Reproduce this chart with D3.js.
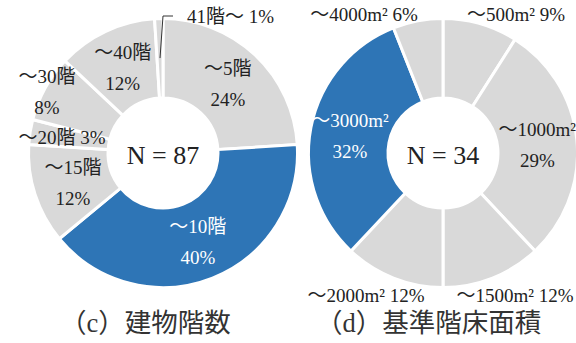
<!DOCTYPE html>
<html>
<head>
<meta charset="utf-8">
<script src="https://cdn.jsdelivr.net/npm/d3@7/dist/d3.min.js"></script>
<style>
  html, body { margin: 0; padding: 0; background: #fff; }
  svg { display: block; }
  text { font-family: "Liberation Serif", "Noto Sans CJK JP", serif; fill: #222; }
</style>
</head>
<body>
<svg id="chart" width="576" height="343"></svg>
<script>
// (c) 建物階数 — building storeys
const floorCats = ["～5階", "～10階", "～15階", "～20階", "～30階", "～40階", "41階～"];
const floorPct  = [24, 40, 12, 3, 8, 12, 1];
const floorN    = 87;

// (d) 基準階床面積 — typical floor area
const areaCats = ["～500m²", "～1000m²", "～1500m²", "～2000m²", "～3000m²", "～4000m²"];
const areaPct  = [9, 29, 12, 12, 32, 6];
const areaN    = 34;

const captions = ["（c）建物階数", "（d）基準階床面積"];

// Label placement: "in" = two lines on the slice centroid,
// "in2" = two lines at a fixed offset, "out" = one line at an offset from the donut centre.
const floorLabelLayout = [
  { mode: "in" },
  { mode: "in" },
  { mode: "in" },
  { mode: "out", dx: -101, dy: -16 },
  { mode: "in2", dx: -116, dy: -62 },
  { mode: "in" },
  { mode: "out", dx: 24, dy: -137, anchor: "start", leader: [[0, -137], [10, -137]] }
];
const areaLabelLayout = [
  { mode: "out", dx: 73, dy: -139 },
  { mode: "in" },
  { mode: "out", dx: 72, dy: 142 },
  { mode: "out", dx: -77, dy: 142 },
  { mode: "in" },
  { mode: "out", dx: -79, dy: -139 }
];

const highlight = { floor: 1, area: 4 };
const colors = { base: "#d9d9d9", accent: "#2e75b6" };

const svg = d3.select("#chart");
const rOuter = 134.5, rInner = 55;
const labelSize = 19;

function donut(cx, cy, cats, vals, n, layout, hi, caption, capX) {
  const g = svg.append("g").attr("transform", `translate(${cx},${cy})`);
  const pie = d3.pie().sort(null).value(d => d)(vals);
  const arc = d3.arc().innerRadius(rInner).outerRadius(rOuter);
  const mid = d3.arc().innerRadius((rInner + rOuter) / 2 - 1).outerRadius((rInner + rOuter) / 2 + 1);

  g.selectAll("path.slice").data(pie).join("path")
    .attr("class", "slice")
    .attr("d", arc)
    .attr("fill", (d, i) => i === hi ? colors.accent : colors.base)
    .attr("stroke", "#fff")
    .attr("stroke-width", 3)
    .attr("stroke-linejoin", "miter");

  pie.forEach((d, i) => {
    const L = layout[i];
    const col = i === hi ? "#fff" : "#222";
    const pct = vals[i] + "%";
    if (L.mode === "in" || L.mode === "in2") {
      const [x, y] = L.mode === "in" ? mid.centroid(d) : [L.dx, L.dy];
      g.append("text").attr("x", x).attr("y", y - 15)
        .attr("text-anchor", "middle").attr("dominant-baseline", "central")
        .attr("font-size", labelSize).style("fill", col).text(cats[i]);
      g.append("text").attr("x", x).attr("y", y + 16)
        .attr("text-anchor", "middle").attr("dominant-baseline", "central")
        .attr("font-size", labelSize).style("fill", col).text(pct);
    } else {
      g.append("text").attr("x", L.dx).attr("y", L.dy)
        .attr("text-anchor", L.anchor || "middle").attr("dominant-baseline", "central")
        .attr("font-size", labelSize).style("fill", col)
        .text(cats[i] + " " + pct);
      if (L.leader) {
        const a = (d.startAngle + d.endAngle) / 2, r = 95;
        const pts = [[r * Math.sin(a), -r * Math.cos(a)], ...L.leader];
        g.append("path").attr("d", d3.line()(pts))
          .attr("fill", "none").attr("stroke", "#333").attr("stroke-width", 1);
      }
    }
  });

  g.append("text").attr("x", 0).attr("y", 2)
    .attr("text-anchor", "middle").attr("dominant-baseline", "central")
    .attr("font-size", 26).text("N = " + n);

  svg.append("text").attr("x", capX).attr("y", 323)
    .attr("text-anchor", "start").attr("dominant-baseline", "central")
    .attr("font-size", 26.5).style("fill", "#333").text(caption);
}

donut(163, 153, floorCats, floorPct, floorN, floorLabelLayout, highlight.floor, captions[0], 60);
donut(443, 153, areaCats, areaPct, areaN, areaLabelLayout, highlight.area, captions[1], 316);
</script>
</body>
</html>
